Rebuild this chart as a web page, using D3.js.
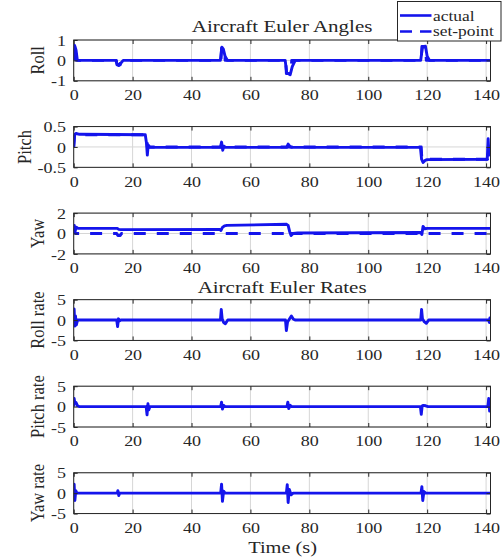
<!DOCTYPE html>
<html>
<head>
<meta charset="utf-8">
<script src="https://cdn.jsdelivr.net/npm/d3@7"></script>
<style>
  html, body { margin: 0; padding: 0; background: #ffffff; }
  svg { display: block; }
  text { font-family: "Liberation Serif", "Times New Roman", serif; fill: #262626; }
</style>
</head>
<body>
<svg id="chart" width="503" height="558"></svg>
<script>
// ---- data -------------------------------------------------------------
const timeTicks = [0, 20, 40, 60, 80, 100, 120, 140];
const timeMax = 141.5;

// Roll angle (rad)
const rollT      = [0, 0.2, 0.4, 0.8, 1.2, 1.6, 14.3, 14.8, 15.3, 15.9, 16.8, 49.8, 50.3, 50.8, 51.4, 52.2, 71.8, 72.3, 73.5, 74.2, 75.2, 117.8, 118.4, 119.4, 120.0, 120.8, 141.5];
const rollActual = [0, 0.75, 0.7, 0.5, 0.05, 0, 0, -0.2, -0.25, -0.15, 0, 0, 0.65, 0.55, 0.2, 0, 0, -0.6, -0.7, -0.3, 0, 0, 0.65, 0.7, 0.2, 0, 0];
const rollSetT   = [0, 0.1, 0.7, 0.9, 14.5, 14.7, 15.8, 16.0, 50.0, 50.2, 51.2, 51.4, 72.0, 72.2, 73.8, 74.0, 118.0, 118.2, 119.5, 119.7, 141.5];
const rollSet    = [0, 0.7, 0.7, 0, 0, -0.22, -0.22, 0, 0, 0.6, 0.6, 0, 0, -0.65, -0.65, 0, 0, 0.68, 0.68, 0, 0];
const rollTicks  = [-1, 0, 1];

// Pitch angle (rad)
const pitchT      = [0, 0.3, 0.8, 2, 24.3, 24.7, 25.0, 25.3, 25.8, 26.5, 49.8, 50.2, 50.6, 51.0, 51.5, 72.3, 72.8, 73.5, 74.0, 117.7, 118.1, 118.6, 119.3, 120, 140.4, 140.7, 141.0, 141.4];
const pitchActual = [0, 0.3, 0.33, 0.31, 0.3, 0.1, -0.2, 0.05, -0.01, -0.01, -0.01, 0.12, -0.08, 0.02, -0.01, -0.01, 0.07, 0.0, -0.01, -0.01, -0.3, -0.38, -0.33, -0.31, -0.3, 0.2, -0.2, 0.0];
const pitchSetT   = [0, 0.3, 24.8, 25.0, 118.0, 118.2, 140.5, 140.7, 141.5];
const pitchSet    = [0, 0.3, 0.3, 0, 0, -0.3, -0.3, 0, 0];
const pitchTicks  = [-0.5, 0, 0.5];

// Yaw angle (rad)
const yawT      = [0, 0.2, 0.5, 1.0, 1.5, 14.8, 15.3, 16, 49.5, 50.0, 50.5, 51.2, 52, 72.3, 72.8, 73.3, 73.8, 74.5, 76, 117.8, 118.2, 118.6, 119.2, 120, 141.5];
const yawActual = [0, 0.8, 0.3, 0.6, 0.5, 0.5, 0.4, 0.38, 0.4, 0.3, 0.6, 0.75, 0.8, 0.9, 0.8, 0.2, -0.2, 0, 0.05, 0.1, -0.1, 0.7, 0.45, 0.5, 0.5];
const yawSetT   = [0, 0.3, 0.6, 14.6, 15.0, 15.8, 16.2, 71.8, 72.2, 72.8, 73.2, 141.5];
const yawSet    = [0, 0.4, 0, 0, -0.2, -0.2, 0, 0, -0.3, -0.3, 0, 0];
const yawTicks  = [-2, 0, 2];

// Body rates (rad/s)
const rollRateT = [0, 0.15, 0.35, 0.6, 0.9, 1.3, 14.6, 14.9, 15.2, 15.6, 16, 49.8, 50.1, 50.4, 50.9, 51.5, 52.3, 71.9, 72.2, 72.6, 73.3, 73.9, 74.6, 75.3, 117.8, 118.1, 118.4, 119.0, 119.7, 120.5, 140.9, 141.1, 141.3, 141.5];
const rollRate  = [0, 2.7, -1.5, 1.0, -1.2, 0, 0, -1.6, 0.3, -0.2, 0, 0, 2.6, 0.3, -0.6, -0.9, 0, 0, -2.6, -0.5, 0.3, 1.0, 0.2, 0, 0, 2.6, 0.3, -0.4, -0.8, 0, 0, -0.6, 0.5, -0.4];
const pitchRateT = [0, 0.15, 0.4, 0.8, 1.3, 1.8, 24.6, 24.9, 25.2, 25.5, 25.9, 49.9, 50.2, 50.5, 50.9, 51.3, 72.4, 72.7, 73.0, 73.5, 74, 117.7, 118.0, 118.3, 118.7, 119.5, 120.3, 140.6, 140.9, 141.2, 141.5];
const pitchRate  = [0, 2.0, 0.8, 1.0, 0.2, 0, 0, -2.0, 0.7, -0.8, 0, 0, 1.1, -0.6, 0.3, 0, 0, 1.1, -0.5, 0.3, 0, 0, -1.9, 0.2, 0.3, 0.2, 0, 0, 2.0, -1.1, 0.3];
const yawRateT = [0, 0.15, 0.4, 0.7, 1.1, 14.8, 15.0, 15.3, 15.6, 49.9, 50.2, 50.5, 50.9, 51.4, 72.2, 72.5, 72.8, 73.2, 73.8, 74.5, 117.9, 118.2, 118.5, 118.9, 119.5, 141.5];
const yawRate  = [0, 2.2, -1.8, 0.6, 0, 0, 0.6, -0.6, 0, 0, 2.2, -2.0, 0.5, 0, 0, 2.1, -2.3, 0.9, -0.4, 0, 0, 1.6, -1.8, 0.4, 0, 0];
const rateTicks = [-5, 0, 5];

const panelLabels = ["Roll", "Pitch", "Yaw", "Roll rate", "Pitch rate", "Yaw rate"];
const groupTitles = ["Aircraft Euler Angles", "Aircraft Euler Rates"];
const legendLabels = ["actual", "set-point"];
const xAxisLabel = "Time (s)";

// ---- layout -----------------------------------------------------------
const SX = 1.2;              // horizontal text stretch
const BLUE = "#1414ec";
const AXIS = "#262626";
const GRID = "#d6d6d6";
const plotLeft = 73.7, plotRight = 490.5;
const panelTop0 = 40, panelStep = 86.55, panelH = 40.8;
const DASH = "12,11";
const LW = 2.9;
const TICK_PAD = 7.7;

const zip = (t, v) => t.map((d, i) => [d, v[i]]);
const plainNum = d => String(d);   // "-0.5", "0", "1" with a plain hyphen

const panels = [
  { label: panelLabels[0], ticks: rollTicks,  actual: zip(rollT, rollActual),   set: zip(rollSetT, rollSet) },
  { label: panelLabels[1], ticks: pitchTicks, actual: zip(pitchT, pitchActual), set: zip(pitchSetT, pitchSet) },
  { label: panelLabels[2], ticks: yawTicks,   actual: zip(yawT, yawActual),     set: zip(yawSetT, yawSet) },
  { label: panelLabels[3], ticks: rateTicks,  actual: zip(rollRateT, rollRate) },
  { label: panelLabels[4], ticks: rateTicks,  actual: zip(pitchRateT, pitchRate) },
  { label: panelLabels[5], ticks: rateTicks,  actual: zip(yawRateT, yawRate) }
];

const svg = d3.select("#chart");
svg.append("rect").attr("width", 503).attr("height", 558).attr("fill", "#ffffff");

const x = d3.scaleLinear().domain([0, timeMax]).range([plotLeft, plotRight]);

function stretchText(sel, px, py, str, size, anchor, rotate) {
  return sel.append("text")
    .attr("transform", `translate(${px},${py}) scale(${SX},1)` + (rotate ? " rotate(-90)" : ""))
    .attr("text-anchor", anchor || "middle")
    .style("font-size", size + "px")
    .text(str);
}

panels.forEach((p, i) => {
  const top = panelTop0 + i * panelStep;
  const bottom = top + panelH;
  const y = d3.scaleLinear().domain(d3.extent(p.ticks)).range([bottom, top]);
  const g = svg.append("g");

  // grid
  g.append("g").selectAll("line").data(timeTicks).join("line")
    .attr("x1", d => x(d)).attr("x2", d => x(d)).attr("y1", top).attr("y2", bottom)
    .attr("stroke", GRID).attr("stroke-width", 1);
  g.append("g").selectAll("line").data(p.ticks).join("line")
    .attr("y1", d => y(d)).attr("y2", d => y(d)).attr("x1", plotLeft).attr("x2", plotRight)
    .attr("stroke", GRID).attr("stroke-width", 1);

  // data lines
  const clipId = "clip" + i;
  g.append("clipPath").attr("id", clipId).append("rect")
    .attr("x", plotLeft).attr("y", top).attr("width", plotRight - plotLeft).attr("height", panelH);
  const line = d3.line().x(d => x(d[0])).y(d => y(d[1]));
  const lines = g.append("g").attr("clip-path", `url(#${clipId})`);
  if (p.set) {
    lines.append("path").datum(p.set).attr("d", line)
      .attr("fill", "none").attr("stroke", BLUE).attr("stroke-width", LW)
      .attr("stroke-dasharray", DASH).attr("stroke-linejoin", "round");
  }
  lines.append("path").datum(p.actual).attr("d", line)
    .attr("fill", "none").attr("stroke", BLUE).attr("stroke-width", LW)
    .attr("stroke-linejoin", "round");

  // axes with inward ticks on all four sides
  const xb = g.append("g").attr("transform", `translate(0,${bottom})`)
    .call(d3.axisBottom(x).tickValues(timeTicks).tickFormat(plainNum).tickSizeInner(-4).tickSizeOuter(0).tickPadding(0));
  const xt = g.append("g").attr("transform", `translate(0,${top})`)
    .call(d3.axisTop(x).tickValues(timeTicks).tickSizeInner(-4).tickSizeOuter(0).tickFormat(""));
  const yl = g.append("g").attr("transform", `translate(${plotLeft},0)`)
    .call(d3.axisLeft(y).tickValues(p.ticks).tickFormat(plainNum).tickSizeInner(-4).tickSizeOuter(0).tickPadding(0));
  const yr = g.append("g").attr("transform", `translate(${plotRight},0)`)
    .call(d3.axisRight(y).tickValues(p.ticks).tickSizeInner(-4).tickSizeOuter(0).tickFormat(""));
  [xb, xt, yl, yr].forEach(a => {
    a.select(".domain").remove();
    a.selectAll("line").attr("stroke", AXIS);
    a.attr("font-family", null).attr("font-size", null);
  });
  xb.selectAll("text")
    .attr("x", 0).attr("y", 19.3).attr("dy", null)
    .attr("transform", `scale(${SX},1)`)
    .style("font-size", "15px").attr("fill", AXIS);
  yl.selectAll("text")
    .attr("x", 0).attr("dy", "0.34em")
    .attr("transform", `translate(${-TICK_PAD},0) scale(${SX},1)`)
    .style("font-size", "15px").attr("fill", AXIS);

  // box
  g.append("rect").attr("x", plotLeft).attr("y", top)
    .attr("width", plotRight - plotLeft).attr("height", panelH)
    .attr("fill", "none").attr("stroke", AXIS).attr("stroke-width", 1);

  // y label, placed left of the widest tick label
  let maxLen = 0;
  yl.selectAll("text").each(function () {
    maxLen = Math.max(maxLen, this.getComputedTextLength());
  });
  const tickLeft = plotLeft - TICK_PAD - maxLen * SX;
  stretchText(g, tickLeft - 7, (top + bottom) / 2, p.label, 16.5, "middle", true);
});

// titles
stretchText(svg, (plotLeft + plotRight) / 2, 32, groupTitles[0], 17.5, "middle");
stretchText(svg, (plotLeft + plotRight) / 2, panelTop0 + 3 * panelStep - 7, groupTitles[1], 17.5, "middle");

// x label
stretchText(svg, (plotLeft + plotRight) / 2 + 0.5, 553, xAxisLabel, 17, "middle");

// legend
const lg = svg.append("g");
lg.append("rect").attr("x", 397.5).attr("y", 1.5).attr("width", 103.5).attr("height", 39.5)
  .attr("fill", "#ffffff").attr("stroke", AXIS).attr("stroke-width", 1);
lg.append("line").attr("x1", 400).attr("x2", 431.5).attr("y1", 15.5).attr("y2", 15.5)
  .attr("stroke", BLUE).attr("stroke-width", 2.6);
lg.append("line").attr("x1", 400).attr("x2", 431.5).attr("y1", 31.5).attr("y2", 31.5)
  .attr("stroke", BLUE).attr("stroke-width", 2.6).attr("stroke-dasharray", "12,8");
stretchText(lg, 433, 20.5, legendLabels[0], 14.5, "start");
stretchText(lg, 433, 36, legendLabels[1], 14.5, "start");
</script>
</body>
</html>
